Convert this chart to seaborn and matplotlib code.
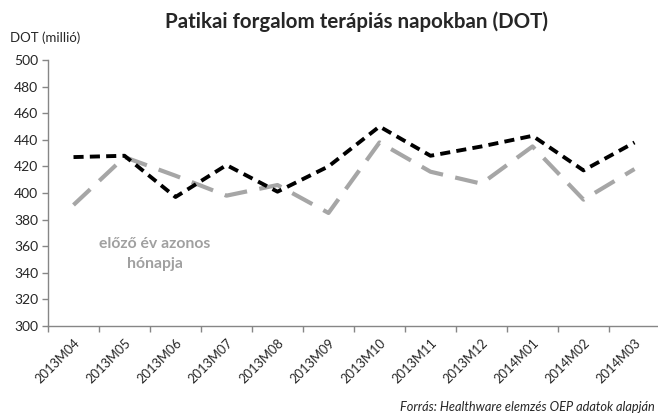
import pandas as pd
import matplotlib.pyplot as plt
import seaborn as sns

# data
months = ['2013M04', '2013M05', '2013M06', '2013M07', '2013M08', '2013M09',
          '2013M10', '2013M11', '2013M12', '2014M01', '2014M02', '2014M03']
current = [427, 428, 397, 421, 401, 420, 450, 428, 435, 443, 417, 438]
previous = [391, 427, 413, 398, 406, 385, 438, 416, 407, 435, 395, 418]

sns.set_style('white')
plt.rcParams['font.family'] = ['Lato', 'DejaVu Sans']

df = pd.DataFrame({'month': months, 'current': current, 'previous': previous})

fig = plt.figure(figsize=(6.58, 4.18), dpi=100)
ax = fig.add_axes([48 / 658, 92 / 418, 612 / 658, 266 / 418])

sns.lineplot(data=df, x='month', y='previous', ax=ax, color='#a6a6a6',
             linewidth=3)
ax.lines[-1].set_dashes([5.5, 3])
sns.lineplot(data=df, x='month', y='current', ax=ax, color='black',
             linewidth=2.8)
ax.lines[-1].set_dashes([2.6, 1.6])

ax.set_ylim(300, 500)
ax.set_xlim(-0.5, len(months) - 0.5)
ax.set_yticks(range(300, 501, 20))
ax.set_xticks(range(len(months)))
ax.set_xticklabels(months, rotation=45, ha='right', rotation_mode='anchor')
ax.set_xticks([i - 0.5 for i in range(len(months) + 1)], minor=True)
ax.tick_params(axis='x', which='major', length=0, labelsize=9.3, pad=8)
ax.tick_params(axis='x', which='minor', length=4, width=1, color='#868686',
               direction='out', bottom=True)
ax.tick_params(axis='y', length=4, width=1, color='#868686', direction='out',
               left=True, labelsize=10, pad=3)
ax.set_xlabel('')
ax.set_ylabel('')

for side in ['top', 'right']:
    ax.spines[side].set_visible(False)
for side in ['left', 'bottom']:
    ax.spines[side].set_color('#868686')
    ax.spines[side].set_linewidth(1)

fig.text(357 / 658, 1 - 22 / 418, 'Patikai forgalom terápiás napokban (DOT)',
         ha='center', va='center', fontsize=14.8, fontweight='bold')
fig.text(10 / 658, 1 - 38 / 418, 'DOT (millió)', ha='left', va='center',
         fontsize=9.5)
ax.text(1.6, 354, 'előző év azonos\nhónapja', ha='center', va='center',
        fontsize=11.3, fontweight='bold', color='#a0a0a0', linespacing=1.5)
fig.text(655 / 658, 1 - 407 / 418,
         'Forrás: Healthware elemzés OEP adatok alapján', ha='right',
         va='center', fontsize=9.2, style='italic')

plt.savefig('out.png', dpi=100)
